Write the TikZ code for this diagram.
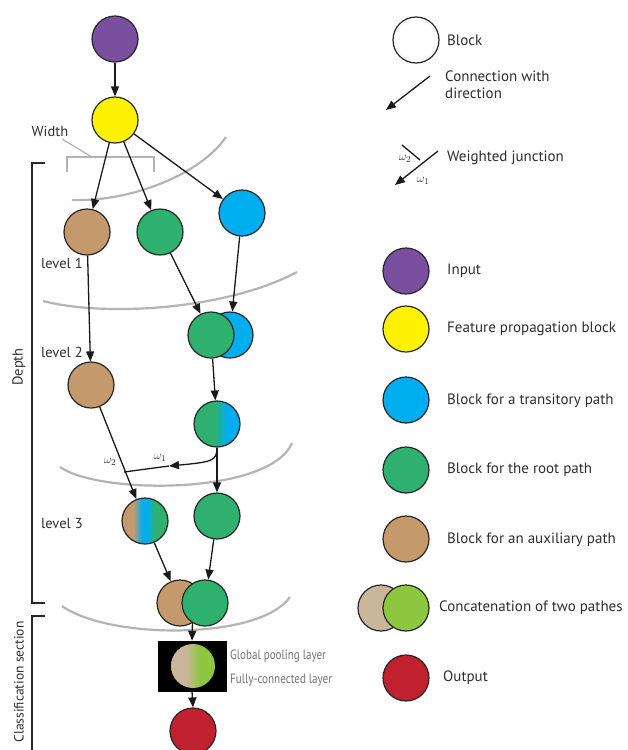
\documentclass[tikz,border=0pt]{standalone}
\usepackage{fontspec}
\setmainfont{PT Sans}
\newfontfamily\narrowfont[FakeStretch=0.82]{PT Sans}
\usetikzlibrary{arrows.meta}
\definecolor{cpurple}{HTML}{7B4FA0}
\definecolor{cyellow}{HTML}{FFF200}
\definecolor{cblue}{HTML}{00AEEF}
\definecolor{cgreen}{HTML}{2EB06E}
\definecolor{cbrown}{HTML}{C49A6C}
\definecolor{cred}{HTML}{C1202F}
\definecolor{cbeige}{HTML}{C8B79A}
\definecolor{clgreen}{HTML}{8DC63F}
\definecolor{ctext}{HTML}{2E2E2E}
\definecolor{carc}{HTML}{B4B4B4}
\pgfdeclarehorizontalshading{gbshade}{100bp}{color(0bp)=(cgreen); color(47bp)=(cgreen); color(61bp)=(cblue); color(100bp)=(cblue)}
\pgfdeclarehorizontalshading{bbgshade}{100bp}{color(0bp)=(cbrown); color(37bp)=(cbrown); color(47bp)=(cblue); color(52bp)=(cblue); color(61bp)=(cgreen); color(100bp)=(cgreen)}
\pgfdeclarehorizontalshading{concshade}{100bp}{color(0bp)=(cbeige); color(42bp)=(cbeige); color(58bp)=(clgreen); color(100bp)=(clgreen)}
\tikzset{
  blk/.style={circle, draw=black!85, line width=1.2pt, minimum size=46pt, inner sep=0pt},
  arr/.style={draw=black!90, line width=1.3pt, -{Triangle[length=10pt,width=8pt]}},
  plain/.style={draw=black!90, line width=1.3pt},
  arcline/.style={draw=carc, line width=2.2pt},
  brk/.style={draw=black!85, line width=1.3pt},
  wbrk/.style={draw=black!30, line width=1.2pt},
  lab/.style={font=\fontsize{15}{18}\selectfont, text=ctext, anchor=west, inner sep=0pt},
  lvl/.style={font=\fontsize{14.5}{17}\selectfont, text=ctext, anchor=west, inner sep=0pt},
  om/.style={font=\fontsize{13}{15}\selectfont, text=ctext, inner sep=0pt},
  small/.style={font=\narrowfont\fontsize{13.5}{16}\selectfont, text=black!55, anchor=west, inner sep=0pt}
}
\begin{document}
\begin{tikzpicture}[x=1pt,y=-1pt]
\useasboundingbox[fill=white] (0,0) rectangle (628,750);

% gray level arcs
\draw[arcline] (72,200) .. controls (130,202) and (200,175) .. (226,137);
\draw[arcline] (43,301) .. controls (110,318) and (230,308) .. (297,272);
\draw[arcline] (60,467) .. controls (100,495) and (270,495) .. (292,443);
\draw[arcline] (62,606) .. controls (110,640) and (260,640) .. (290,597);

% width bracket
\node[font=\fontsize{14.5}{17}\selectfont, text=ctext, inner sep=0pt] (wl) at (50,131) {Width};
\coordinate (wb) at (92,157);
\draw[wbrk] (62,139) -- (wb);
\draw[wbrk] (67,172) -- (67,157) -- (154,157) -- (154,172);

% depth and classification brackets
\draw[brk] (45,163) -- (32,163) -- (32,603) -- (45,603);
\node[rotate=90, font=\fontsize{14.5}{17}\selectfont, text=ctext, inner sep=0pt] (dl) at (19,367) {Depth};
\draw[brk] (45,616) -- (32,616) -- (32,760);
\node[rotate=90, font=\fontsize{13.5}{16}\selectfont, text=ctext, inner sep=0pt] (cl) at (19,682) {Classification section};

% level labels
\node[lvl] (l1) at (41,263) {level 1};
\node[lvl] (l2) at (41,352) {level 2};
\node[lvl] (l3) at (41,524) {level 3};

% blocks
\node[blk, fill=cpurple] (in) at (115,39) {};
\node[blk, fill=cyellow] (fp) at (115,120) {};
\node[blk, fill=cbrown] (a1) at (87,232) {};
\node[blk, fill=cgreen] (r1) at (160,232) {};
\node[blk, fill=cblue] (t1) at (242,213) {};
\node[blk, fill=cblue] (mb) at (230,335) {};
\node[blk, fill=cgreen] (mg) at (211,335) {};
\node[blk, fill=cbrown] (a2) at (91,385) {};
\node[blk, shade, shading=gbshade] (gb) at (217,424) {};
\node[blk, shade, shading=bbgshade] (x3) at (145,521) {};
\node[blk, fill=cgreen] (r3) at (217,516) {};
\node[blk, fill=cbrown] (cb) at (180,603) {};
\node[blk, fill=cgreen] (cg) at (205,603) {};
\node[draw=black, fill=black, minimum width=68pt, minimum height=50pt, inner sep=0pt] (box) at (192,666) {};
\node[circle, minimum size=44pt, inner sep=0pt, shade, shading=concshade] (gp) at (193,666) {};
\node[blk, fill=cred] (out) at (193,731) {};
\node[small] (gpl) at (230,656) {Global pooling layer};
\node[small] (fcl) at (230,680) {Fully-connected layer};

% connections
\draw[arr] (in) -- (fp);
\draw[arr] (fp) -- (a1);
\draw[arr] (fp) -- (r1);
\draw[arr] (fp) -- (t1);
\draw[arr] (a1) -- (a2);
\draw[arr] (r1) -- (mg);
\draw[arr] (t1) -- (mb);
\draw[arr] (mg) -- (gb);
\draw[arr] (gb) -- (r3);
\draw[arr] (a2) -- (x3);
\coordinate (jw) at (169,466);
\coordinate (jn) at (124,472);
\draw[arr] (gb.south) .. controls (217,461) and (212,462) .. (jw);
\draw[plain] (jw) -- (jn);
\node[om] (w1) at (160,458) {$\omega_1$};
\node[om] (w2) at (110,462) {$\omega_2$};
\draw[arr] (x3) -- (cb);
\draw[arr] (r3) -- (cg);
\coordinate (cj) at (192.5,622);
\draw[arr] (cj) -- (box.north);
\draw[arr] (box.south) -- (out.north);

% legend
\node[blk, fill=white] (lb) at (416,40) {};
\node[lab] (lbt) at (447,40) {Block};
\coordinate (la0) at (430,76);
\coordinate (la1) at (386,110);
\draw[arr] (la0) -- (la1);
\node[lab, align=left, anchor=north west] (lat) at (445,71) {Connection with\\[-1pt]direction};
\coordinate (lw0) at (402,145);
\coordinate (lw1) at (420,160);
\coordinate (lw2) at (438,151);
\coordinate (lw3) at (395,185);
\draw[plain] (lw0) -- (lw1);
\draw[arr] (lw2) -- (lw3);
\node[om] (lw2t) at (405,159) {$\omega_2$};
\node[om] (lw1t) at (423,181) {$\omega_1$};
\node[lab] (lwt) at (447,158) {Weighted junction};

\node[blk, fill=cpurple] (li) at (406,271) {};
\node[lab] (lit) at (447,271) {Input};
\node[blk, fill=cyellow] (lf) at (406,329) {};
\node[lab] (lft) at (447,329) {Feature propagation block};
\node[blk, fill=cblue] (lt) at (406,400) {};
\node[lab] (ltt) at (447,401) {Block for a transitory path};
\node[blk, fill=cgreen] (lr) at (406,470) {};
\node[lab] (lrt) at (447,470) {Block for the root path};
\node[blk, fill=cbrown] (lx) at (406,539) {};
\node[lab] (lxt) at (447,540) {Block for an auxiliary path};
\node[blk, fill=cbeige] (lc1) at (381,608) {};
\node[blk, fill=clgreen] (lc2) at (406,608) {};
\node[lab] (lct) at (439,608) {Concatenation of two pathes};
\node[blk, fill=cred] (lo) at (406,678) {};
\node[lab] (lot) at (443,678) {Output};
\end{tikzpicture}
\end{document}
